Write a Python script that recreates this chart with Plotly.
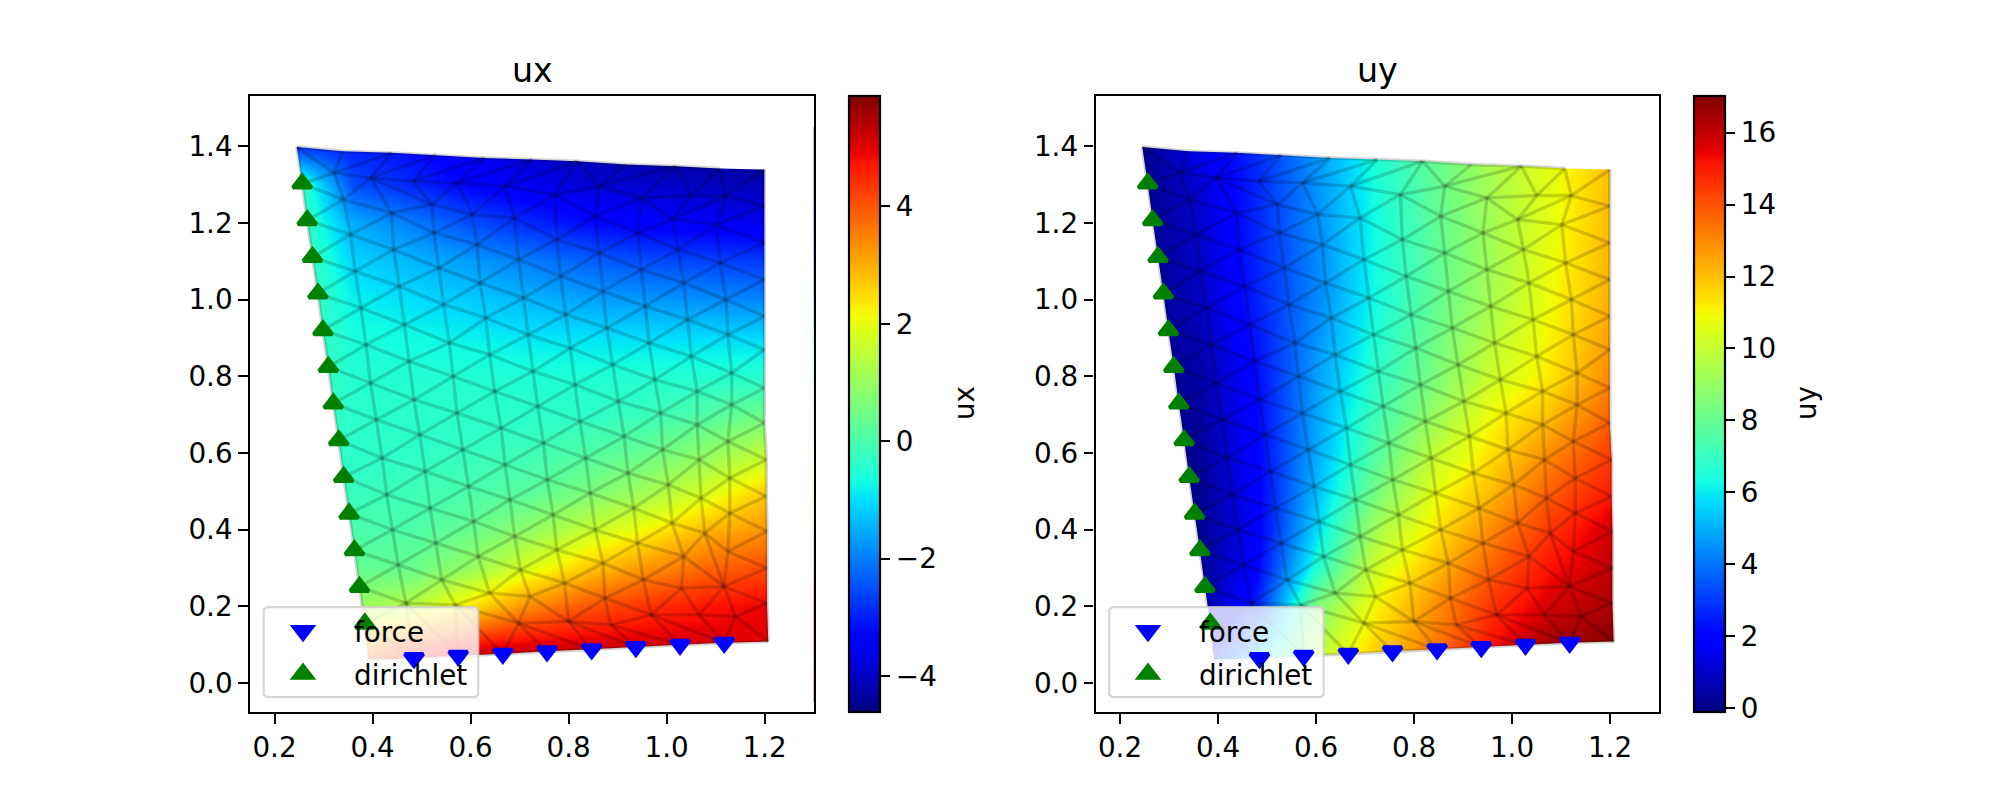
import plotly.graph_objects as go

W, H = 2000, 800

tick_x = [0.2, 0.4, 0.6, 0.8, 1.0, 1.2]
tick_x_text = ["0.2", "0.4", "0.6", "0.8", "1.0", "1.2"]
tick_y = [0.0, 0.2, 0.4, 0.6, 0.8, 1.0, 1.2, 1.4]
tick_y_text = ["0.0", "0.2", "0.4", "0.6", "0.8", "1.0", "1.2", "1.4"]
ux_ticks = [-4, -2, 0, 2, 4]
uy_ticks = [0, 2, 4, 6, 8, 10, 12, 14, 16]

force_x = [0.4847, 0.5749, 0.6659, 0.7561, 0.8471, 0.9373, 1.0275, 1.1176]
force_y = [0.0652, 0.0713, 0.0765, 0.0826, 0.0878, 0.0939, 0.1, 0.1052]
dirichlet_x = [0.2565, 0.2667, 0.2776, 0.2886, 0.2988, 0.3098, 0.32, 0.331, 0.3412, 0.3522, 0.3631, 0.3733, 0.3843]
dirichlet_y = [1.3026, 1.207, 1.111, 1.0157, 0.92, 0.8243, 0.7287, 0.633, 0.5374, 0.4417, 0.346, 0.2504, 0.1548]

# mesh nodes, one list per near-vertical line, top to bottom
col0_x = [0.2455] + dirichlet_x + [0.392]
col0_y = [1.398] + dirichlet_y + [0.061]
colA_x = [.3395, .3215, .3411, .3552, .3646, .3764, .3866, .396, .4077, .4195, .4289, .4406, .4524, .4681, .4846]
colA_y = [1.387, 1.3305, 1.2609, 1.1695, 1.0738, .9781, .8824, .7824, .6867, .5866, .4909, .3996, .3082, .2082, .0646]
colB_x = [.4391, .396, .4391, .443, .4548, .465, .4744, .4846, .4963, .5073, .5175, .5292, .541, .5684, .5747]
colB_y = [1.3827, 1.3174, 1.2261, 1.1304, 1.0347, .9346, .8389, .7389, .6475, .5518, .4561, .3648, .2691, .2038, .0707]
colC_x = [.5292, .4822, .5214, .5253, .5355, .5449, .5567, .5645, .5724, .5841, .5959, .6061, .6155, .639, .6978, .6657]
colC_y = [1.3766, 1.3087, 1.248, 1.1739, 1.0825, .9868, .8868, .7998, .7041, .6084, .5127, .4213, .33, .2343, .156, .076]
colD_x = [.6288, .5724, .6037, .6131, .6194, .6312, .639, .6492, .6625, .6704, .6806, .69, .7017, .7213, .6978, .7558]
colD_y = [1.3696, 1.3044, 1.2217, 1.1434, 1.0434, .952, .8563, .7606, .6649, .5692, .4779, .3822, .2952, .2256, .156, .082]
colE_x = [.7252, .6704, .69, .6978, .708, .7174, .7276, .737, .7488, .7566, .7684, .7762, .7919, .7997, .8468]
colE_y = [1.3653, 1.2957, 1.213, 1.1043, 1.0042, .9085, .8128, .7215, .6258, .5301, .4387, .3474, .2604, .1603, .0873]
colF_x = [.8178, .7723, .7762, .784, .7942, .8036, .813, .8232, .835, .8444, .8546, .8703, .8742, .886, .9369]
colF_y = [1.361, 1.2739, 1.1565, 1.0608, .9607, .8737, .778, .6823, .5866, .4953, .3996, .3126, .2212, .1516, .0934]
colG_x = [.9173, .8624, .8546, .8624, .8703, .8781, .8899, .9016, .9134, .9212, .933, .9408, .9526, .9683, 1.0271]
colG_y = [1.3522, 1.2957, 1.2174, 1.1217, 1.0216, .926, .8302, .7345, .6432, .5475, .4561, .3648, .2691, .1777, .0994]
colH_x = [1.0192, .9487, .9408, .9487, .9565, .9644, .9761, .9879, .9918, 1.0036, 1.0114, 1.0349, 1.031, 1.0663, 1.1172]
colH_y = [1.348, 1.2652, 1.1739, 1.0782, .9825, .8868, .7911, .7041, .6084, .517, .417, .33, .2473, .1777, .1047]
colI_x = [1.1078, 1.0506, 1.0114, 1.0232, 1.0349, 1.0428, 1.0506, 1.0624, 1.0624, 1.0663, 1.0702, 1.078, 1.1172, 1.0663, 1.1172]
colI_y = [1.3418, 1.2713, 1.2087, 1.1304, 1.0434, .9477, .852, .7606, .6736, .5823, .4822, .3909, .2517, .1777, .1047]
colJ_x = [1.1212, 1.1016, 1.1094, 1.1212, 1.1251, 1.1329, 1.1329, 1.1251, 1.129, 1.129, 1.1251, 1.1172, 1.1408, 1.1172]
colJ_y = [1.2713, 1.1956, 1.0956, .9999, .9085, .8085, .7258, .6301, .5344, .4431, .343, .2517, .1734, .1047]
colK_x = [1.1996, 1.1996, 1.1996, 1.1996, 1.1996, 1.1996, 1.1996, 1.1996, 1.2035, 1.2035, 1.205, 1.205, 1.205, 1.2074]
colK_y = [1.3392, 1.2435, 1.1478, 1.0521, .9564, .8694, .7693, .678, .5823, .4866, .3952, .2995, .2082, .1081]

mesh_cols = [(col0_x, col0_y), (colA_x, colA_y), (colB_x, colB_y), (colC_x, colC_y),
             (colD_x, colD_y), (colE_x, colE_y), (colF_x, colF_y), (colG_x, colG_y),
             (colH_x, colH_y), (colI_x, colI_y), (colJ_x, colJ_y), (colK_x, colK_y)]

# field samples: rows top to bottom
field_x = [0.24, 0.36, 0.48, 0.60, 0.72, 0.84, 0.96, 1.08, 1.20, 1.32]
field_y = [1.4, 1.3, 1.2, 1.1, 1.0, 0.9, 0.8, 0.7, 0.6, 0.5, 0.4, 0.3, 0.2, 0.1, 0.0]
ux_field = [
    [-2.8, -3.0, -3.2, -3.6, -3.9, -4.2, -4.4, -4.5, -4.55, -4.55],
    [0.1, -2.5, -2.9, -3.3, -3.6, -3.8, -3.9, -4.0, -4.1, -4.1],
    [0.0, -1.5, -2.0, -2.5, -2.9, -3.2, -3.4, -3.5, -3.6, -3.6],
    [0.1, -1.1, -1.4, -1.7, -2.0, -2.3, -2.5, -2.6, -2.7, -2.7],
    [0.05, -0.8, -1.0, -1.2, -1.4, -1.6, -1.7, -1.8, -1.9, -1.9],
    [0.0, -0.6, -0.7, -0.8, -0.9, -0.95, -1.0, -1.0, -1.05, -1.05],
    [0.0, -0.5, -0.5, -0.5, -0.55, -0.55, -0.5, -0.5, -0.45, -0.45],
    [0.0, -0.4, -0.4, -0.4, -0.4, -0.35, -0.2, 0.1, 0.5, 0.5],
    [0.0, -0.4, -0.35, -0.25, -0.15, 0.1, 0.4, 0.9, 1.5, 1.5],
    [0.0, -0.25, -0.15, 0.0, 0.2, 0.6, 1.1, 1.8, 2.6, 2.6],
    [0.0, 0.0, 0.05, 0.4, 0.9, 1.6, 2.2, 2.9, 3.3, 3.3],
    [0.0, 0.3, 0.4, 1.0, 1.9, 2.7, 3.3, 3.8, 4.1, 4.1],
    [0.0, 1.0, 1.4, 2.4, 3.4, 4.0, 4.4, 4.7, 4.9, 4.9],
    [1.0, 3.0, 4.2, 4.8, 5.0, 5.1, 5.1, 5.1, 5.0, 5.0],
    [3.0, 5.0, 6.0, 6.3, 6.5, 6.4, 6.2, 6.0, 5.6, 5.6],
]
uy_field = [
    [0.0, 1.6, 2.8, 4.6, 6.5, 8.0, 9.4, 10.7, 12.0, 12.0],
    [0.0, 1.1, 2.7, 4.5, 6.4, 7.9, 9.4, 10.7, 12.0, 12.0],
    [0.0, 1.0, 2.7, 4.4, 6.3, 7.8, 9.3, 10.7, 12.1, 12.1],
    [0.0, 0.9, 2.6, 4.3, 6.3, 7.8, 9.3, 10.8, 12.2, 12.2],
    [0.0, 0.8, 2.6, 4.3, 6.3, 7.9, 9.4, 10.9, 12.3, 12.3],
    [0.0, 0.6, 2.4, 4.5, 6.5, 8.1, 9.8, 11.1, 12.6, 12.6],
    [0.0, 0.4, 2.2, 4.7, 6.8, 8.4, 10.2, 11.3, 13.0, 13.0],
    [0.0, 0.3, 2.1, 4.8, 7.2, 9.0, 10.9, 12.0, 13.7, 13.7],
    [0.0, 0.2, 2.0, 4.9, 7.6, 9.9, 11.4, 13.0, 14.4, 14.4],
    [0.0, 0.1, 1.9, 5.2, 8.3, 10.6, 12.1, 13.8, 15.0, 15.0],
    [0.0, 0.1, 1.8, 5.7, 9.3, 11.2, 13.0, 14.6, 15.8, 15.8],
    [0.0, 0.1, 2.0, 6.6, 10.2, 12.0, 13.8, 15.2, 16.1, 16.1],
    [0.0, 0.2, 2.6, 8.5, 11.0, 12.8, 14.6, 15.8, 16.4, 16.4],
    [0.0, 1.0, 5.0, 9.5, 11.6, 13.2, 15.2, 16.6, 16.9, 16.9],
    [0.0, 3.0, 7.0, 10.5, 12.0, 14.0, 16.0, 17.0, 17.0, 17.0],
]

XR = [0.15, 1.30]
YR = [-0.0757, 1.531]
ux_range = [-4.61, 5.88]
uy_range = [-0.11, 17.02]

legend_box_x = [.184, .610, .6157, .6157, .610, .184, .178, .178, .184]
legend_box_y = [.198, .198, .191, -.030, -.037, -.037, -.030, .191, .198]

jet = [[0, "rgb(0,0,128)"], [.11, "rgb(0,0,255)"], [.125, "rgb(0,0,255)"], [.34, "rgb(0,219,255)"],
       [.35, "rgb(0,230,247)"], [.375, "rgb(21,255,226)"], [.64, "rgb(238,255,8)"], [.65, "rgb(247,246,0)"],
       [.66, "rgb(255,236,0)"], [.89, "rgb(255,19,0)"], [.91, "rgb(232,0,0)"], [1, "rgb(128,0,0)"]]

FONT = "DejaVu Sans"
FS = 27.8


def mesh_edges():
    seen = set()
    ex, ey = [], []

    def add(x0, y0, x1, y1):
        key = frozenset([(x0, y0), (x1, y1)])
        if len(key) < 2 or key in seen:
            return
        seen.add(key)
        ex.extend([x0, x1, None])
        ey.extend([y0, y1, None])

    for cx, cy in mesh_cols:
        for i in range(len(cx) - 1):
            add(cx[i], cy[i], cx[i + 1], cy[i + 1])
    for (ax_, ay), (bx, by) in zip(mesh_cols[:-1], mesh_cols[1:]):
        i, j = 0, 0
        add(ax_[0], ay[0], bx[0], by[0])
        while i < len(ax_) - 1 or j < len(bx) - 1:
            if j == len(bx) - 1 or (i < len(ax_) - 1 and ay[i + 1] >= by[j + 1]):
                i += 1
            else:
                j += 1
            add(ax_[i], ay[i], bx[j], by[j])
    return ex, ey


edge_x, edge_y = mesh_edges()

top_x = [c[0][0] for c in mesh_cols[:10]] + [colK_x[0]]
top_y = [c[1][0] for c in mesh_cols[:10]] + [colK_y[0]]
outline_x = top_x + colK_x[1:] + force_x[::-1] + col0_x[::-1]
outline_y = top_y + colK_y[1:] + force_y[::-1] + col0_y[::-1]
# white surround: plot rectangle (opposite winding) with the body's outline cut out
mask_x = outline_x + [XR[0], XR[0], XR[1], XR[1], XR[0], outline_x[0]]
mask_y = outline_y + [YR[1], YR[0], YR[0], YR[1], YR[1], outline_y[0]]

fig = go.Figure()


def add_panel(idx, name, field, zr, ticks, cb_left):
    suffix = "" if idx == 1 else "2"
    xa, ya = "x" + suffix, "y" + suffix
    lg = "legend" + suffix
    fig.add_trace(go.Heatmap(
        x=field_x, y=field_y, z=field, zmin=zr[0], zmax=zr[1], zsmooth="best", colorscale=jet,
        xaxis=xa, yaxis=ya, hoverinfo="skip",
        colorbar=dict(x=cb_left / W, xanchor="left", xpad=0, ypad=0, thickness=30.8, thicknessmode="pixels",
                      y=1 - 712 / H, yanchor="bottom", len=616 / H, lenmode="fraction",
                      tickmode="array", tickvals=ticks, ticks="outside", ticklen=9.7, tickwidth=2.2,
                      tickcolor="black", outlinewidth=2.2, outlinecolor="black",
                      tickfont=dict(family=FONT, size=FS, color="black")),
    ))
    fig.add_trace(go.Scatter(x=mask_x, y=mask_y, mode="none", fill="toself", fillcolor="white",
                             xaxis=xa, yaxis=ya, showlegend=False, hoverinfo="skip"))
    fig.add_trace(go.Scatter(x=edge_x, y=edge_y, mode="lines", line=dict(color="rgba(0,0,0,0.17)", width=3.4),
                             xaxis=xa, yaxis=ya, showlegend=False, hoverinfo="skip"))
    fig.add_trace(go.Scatter(x=legend_box_x, y=legend_box_y, mode="lines", fill="toself",
                             fillcolor="rgba(255,255,255,0.8)", line=dict(color="rgba(204,204,204,0.8)", width=2.2),
                             xaxis=xa, yaxis=ya, showlegend=False, hoverinfo="skip"))
    fig.add_trace(go.Scatter(x=force_x, y=force_y, mode="markers", name="force", legend=lg, legendgroup="f" + suffix,
                             marker=dict(symbol="triangle-down", size=16, color="blue", line=dict(color="blue", width=4)),
                             xaxis=xa, yaxis=ya))
    fig.add_trace(go.Scatter(x=dirichlet_x, y=dirichlet_y, mode="markers", name="dirichlet", legend=lg, legendgroup="d" + suffix,
                             marker=dict(symbol="triangle-up", size=16, color="green", line=dict(color="green", width=4)),
                             xaxis=xa, yaxis=ya))


add_panel(1, "ux", ux_field, ux_range, ux_ticks, 848.8)
add_panel(2, "uy", uy_field, uy_range, uy_ticks, 1694.3)


def axis(domain, vals, text, rng, anchor):
    return dict(domain=domain, range=rng, tickmode="array", tickvals=vals, ticktext=text, ticks="outside",
                ticklen=9.7, tickwidth=2.2, tickcolor="black", showline=True, linewidth=2.2, linecolor="black",
                mirror=True, showgrid=False, zeroline=False, anchor=anchor,
                tickfont=dict(family=FONT, size=FS, color="black"))


y_dom = [1 - 712 / H, 1 - 96 / H]


def legend_cfg(left):
    return dict(x=left / W, xanchor="left", y=1 - 606.5 / H, yanchor="top", bgcolor="rgba(0,0,0,0)", borderwidth=0,
                itemwidth=92, tracegroupgap=3.5, font=dict(family=FONT, size=FS, color="black"))


def label(text, x, y, size, angle=0):
    return dict(text=text, x=x / W, y=1 - y / H, xref="paper", yref="paper", showarrow=False, textangle=angle,
                xanchor="center", yanchor="middle", font=dict(family=FONT, size=size, color="black"))


fig.update_layout(
    width=W, height=H, margin=dict(l=0, r=0, t=0, b=0, autoexpand=False),
    paper_bgcolor="white", plot_bgcolor="white", font=dict(family=FONT, size=FS, color="black"),
    xaxis=axis([250 / W, 813.6 / W], tick_x, tick_x_text, XR, "y"),
    yaxis=axis(y_dom, tick_y, tick_y_text, YR, "x"),
    xaxis2=axis([1095.5 / W, 1659 / W], tick_x, tick_x_text, XR, "y2"),
    yaxis2=axis(y_dom, tick_y, tick_y_text, YR, "x2"),
    legend=legend_cfg(252),
    legend2=legend_cfg(1097),
    annotations=[label("ux", 532, 70, 33.3), label("uy", 1377, 70, 33.3),
                 label("ux", 964, 403, FS, -90), label("uy", 1806, 403, FS, -90)],
)

fig.write_html("out.html", config=dict(displayModeBar=False),
               post_script="document.body.style.margin='0';document.body.style.overflow='hidden';")
